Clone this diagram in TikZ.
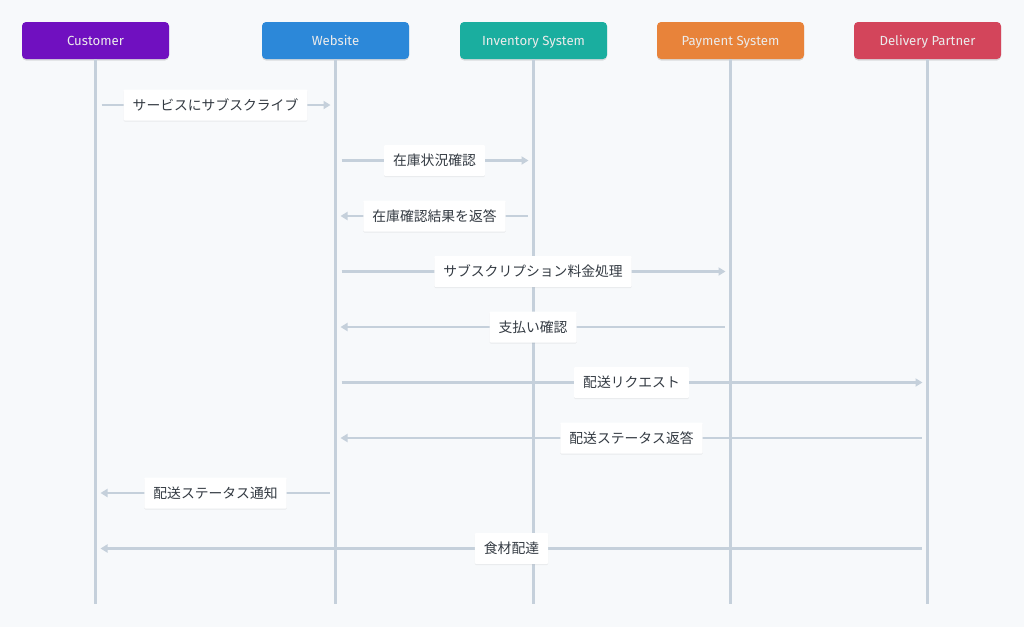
\documentclass[tikz,border=0pt]{standalone}
\usepackage{fontspec}
\setmainfont{Fira Sans}
\newfontfamily\jpfont{Noto Sans CJK JP}
\usetikzlibrary{arrows.meta,shadows}

\definecolor{custcol}{HTML}{7010C0}
\definecolor{webcol}{HTML}{2C88D9}
\definecolor{invcol}{HTML}{1AAE9F}
\definecolor{paycol}{HTML}{E8833A}
\definecolor{delcol}{HTML}{D3455B}
\definecolor{linecol}{HTML}{C5D0DB}
\definecolor{bgcol}{HTML}{F7F9FB}
\definecolor{txtcol}{HTML}{333A42}

\tikzset{
	actor/.style={rectangle, rounded corners=4pt, minimum width=147pt, minimum height=37pt,
		text=white!92!black, font=\fontsize{13.2}{15}\selectfont,
		text height=10.5pt, text depth=1pt,
		drop shadow={shadow xshift=0pt, shadow yshift=-1.5pt, opacity=0.12, fill=black}},
	life/.style={draw=linecol, line width=2.5pt},
	msg/.style={draw=linecol, line width=2.5pt, -{Triangle[length=7pt,width=8pt]},
		shorten <=6pt, shorten >=5pt},
	lbl/.style={fill=white, rounded corners=1pt, minimum height=31pt, inner xsep=9pt,
		text=txtcol, font=\jpfont\fontsize{13.8}{15}\selectfont,
		drop shadow={shadow xshift=0pt, shadow yshift=-1pt, opacity=0.06, fill=black}}
}

\begin{document}
\begin{tikzpicture}[x=1pt, y=-1pt]
	\fill[bgcol] (0,0) rectangle (1024,627);
	\useasboundingbox (0,0) rectangle (1024,627);
	%%%actors
	\node[actor, fill=custcol] at (95.5,40.5) (C){Customer};
	\node[actor, fill=webcol] at (335.5,40.5) (W){Website};
	\node[actor, fill=invcol] at (533.5,40.5) (I){Inventory System};
	\node[actor, fill=paycol] at (730.5,40.5) (P){Payment System};
	\node[actor, fill=delcol] at (927.5,40.5) (D){Delivery Partner};
	%%%lifeline ends
	\coordinate (Cend) at (95.5,604);
	\coordinate (Wend) at (335.5,604);
	\coordinate (Iend) at (533.5,604);
	\coordinate (Pend) at (730.5,604);
	\coordinate (Dend) at (927.5,604);
	%%%lifelines
	\draw[life] (C.south) -- (Cend);
	\draw[life] (W.south) -- (Wend);
	\draw[life] (I.south) -- (Iend);
	\draw[life] (P.south) -- (Pend);
	\draw[life] (D.south) -- (Dend);
	%%%message rows
	\coordinate (m1) at (0,105);
	\coordinate (m2) at (0,160.5);
	\coordinate (m3) at (0,216);
	\coordinate (m4) at (0,271.5);
	\coordinate (m5) at (0,327);
	\coordinate (m6) at (0,382.5);
	\coordinate (m7) at (0,438);
	\coordinate (m8) at (0,493);
	\coordinate (m9) at (0,548.5);
	%%%messages
	%subscription
	\draw[msg] (C|-m1) -- (W|-m1) node[midway, lbl] {サービスにサブスクライブ};
	%inventory
	\draw[msg] (W|-m2) -- (I|-m2) node[midway, lbl] {在庫状況確認};
	\draw[msg] (I|-m3) -- (W|-m3) node[midway, lbl] {在庫確認結果を返答};
	%payment
	\draw[msg] (W|-m4) -- (P|-m4) node[midway, lbl] {サブスクリプション料金処理};
	\draw[msg] (P|-m5) -- (W|-m5) node[midway, lbl] {支払い確認};
	%delivery
	\draw[msg] (W|-m6) -- (D|-m6) node[midway, lbl] {配送リクエスト};
	\draw[msg] (D|-m7) -- (W|-m7) node[midway, lbl] {配送ステータス返答};
	\draw[msg] (W|-m8) -- (C|-m8) node[midway, lbl] {配送ステータス通知};
	\draw[msg] (D|-m9) -- (C|-m9) node[midway, lbl] {食材配達};
\end{tikzpicture}
\end{document}
